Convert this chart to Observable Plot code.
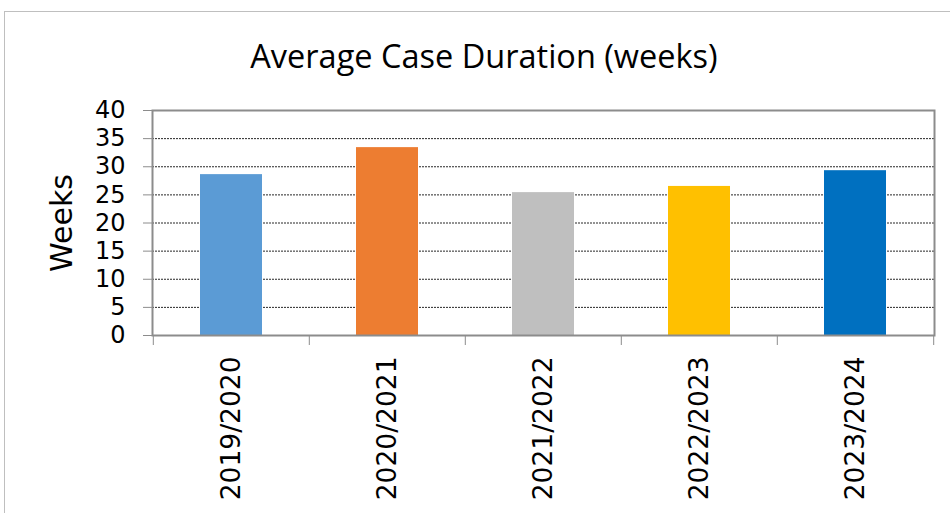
<!DOCTYPE html>
<html>
<head>
<meta charset="utf-8">
<script src="https://cdn.jsdelivr.net/npm/d3@7"></script>
<script src="https://cdn.jsdelivr.net/npm/@observablehq/plot@0.6"></script>
<style>
  html, body { margin: 0; padding: 0; background: #fff; }
  #wrap { position: relative; width: 950px; height: 513px; overflow: hidden; }
  #border { position: absolute; left: 4px; top: 11px; width: 1000px; height: 600px;
            border-left: 1px solid #bfbfbf; border-top: 1px solid #bfbfbf; }
  #title { position: absolute; left: 4px; width: 960px; top: 35px; text-align: center;
           font-family: "Open Sans", Lato, sans-serif; font-size: 32.5px; line-height: 42px; color: #000; }
  #chart { position: absolute; left: 0; top: 80px; }
  #chart svg { overflow: visible; }
</style>
</head>
<body>
<div id="wrap">
  <div id="border"></div>
  <div id="title">Average Case Duration (weeks)</div>
  <div id="chart"></div>
</div>
<script>
const seasons = ["2019/2020", "2020/2021", "2021/2022", "2022/2023", "2023/2024"];
const weeks = [28.6, 33.4, 25.4, 26.5, 29.3];
const barColors = ["#5B9BD5", "#ED7D31", "#BFBFBF", "#FFC000", "#0070C0"];
const yTicks = [0, 5, 10, 15, 20, 25, 30, 35, 40];
const gridTicks = [5, 10, 15, 20, 25, 30, 35];
const yLabel = "Weeks";

const data = seasons.map((s, i) => ({season: s, value: weeks[i], color: barColors[i]}));

const W = 950, H = 433, mL = 152, mR = 16, mT = 30, mB = 178;
const step = (W - mL - mR) / seasons.length;

const chart = Plot.plot({
  width: W, height: H,
  marginLeft: mL, marginRight: mR, marginTop: mT, marginBottom: mB,
  style: { fontFamily: "'DejaVu Sans', Verdana, sans-serif", color: "#000", background: "transparent" },
  x: { domain: seasons, paddingInner: 0.6, paddingOuter: 0.3, align: 0.5 },
  y: { domain: [0, 40] },
  marks: [
    Plot.ruleY(gridTicks, { stroke: "#000", strokeWidth: 1, strokeDasharray: "2,1", strokeOpacity: 0.85 }),
    Plot.barY(data, { x: "season", y: "value", fill: "color" }),
    Plot.frame({ stroke: "#8c8c8c", strokeWidth: 2 }),
    Plot.axisY(yTicks, { tickSize: 9, tickPadding: 18, fontSize: 24, stroke: "#8c8c8c", label: null, tickFormat: d => String(d) }),
    Plot.axisX(seasons, { tickSize: 10, stroke: "#8c8c8c", text: null, label: null, dx: -step / 2 }),
    Plot.axisX([seasons[seasons.length - 1]], { tickSize: 10, stroke: "#8c8c8c", text: null, label: null, dx: step / 2 }),
    Plot.axisX(seasons, { tickSize: 0, tickPadding: 21, tickRotate: -90, fontSize: 26.5, label: null }),
    Plot.text([yLabel], { frameAnchor: "left", textAnchor: "middle", dx: -90, rotate: -90, fontSize: 30, text: d => d })
  ]
});
document.getElementById("chart").appendChild(chart);
</script>
</body>
</html>
